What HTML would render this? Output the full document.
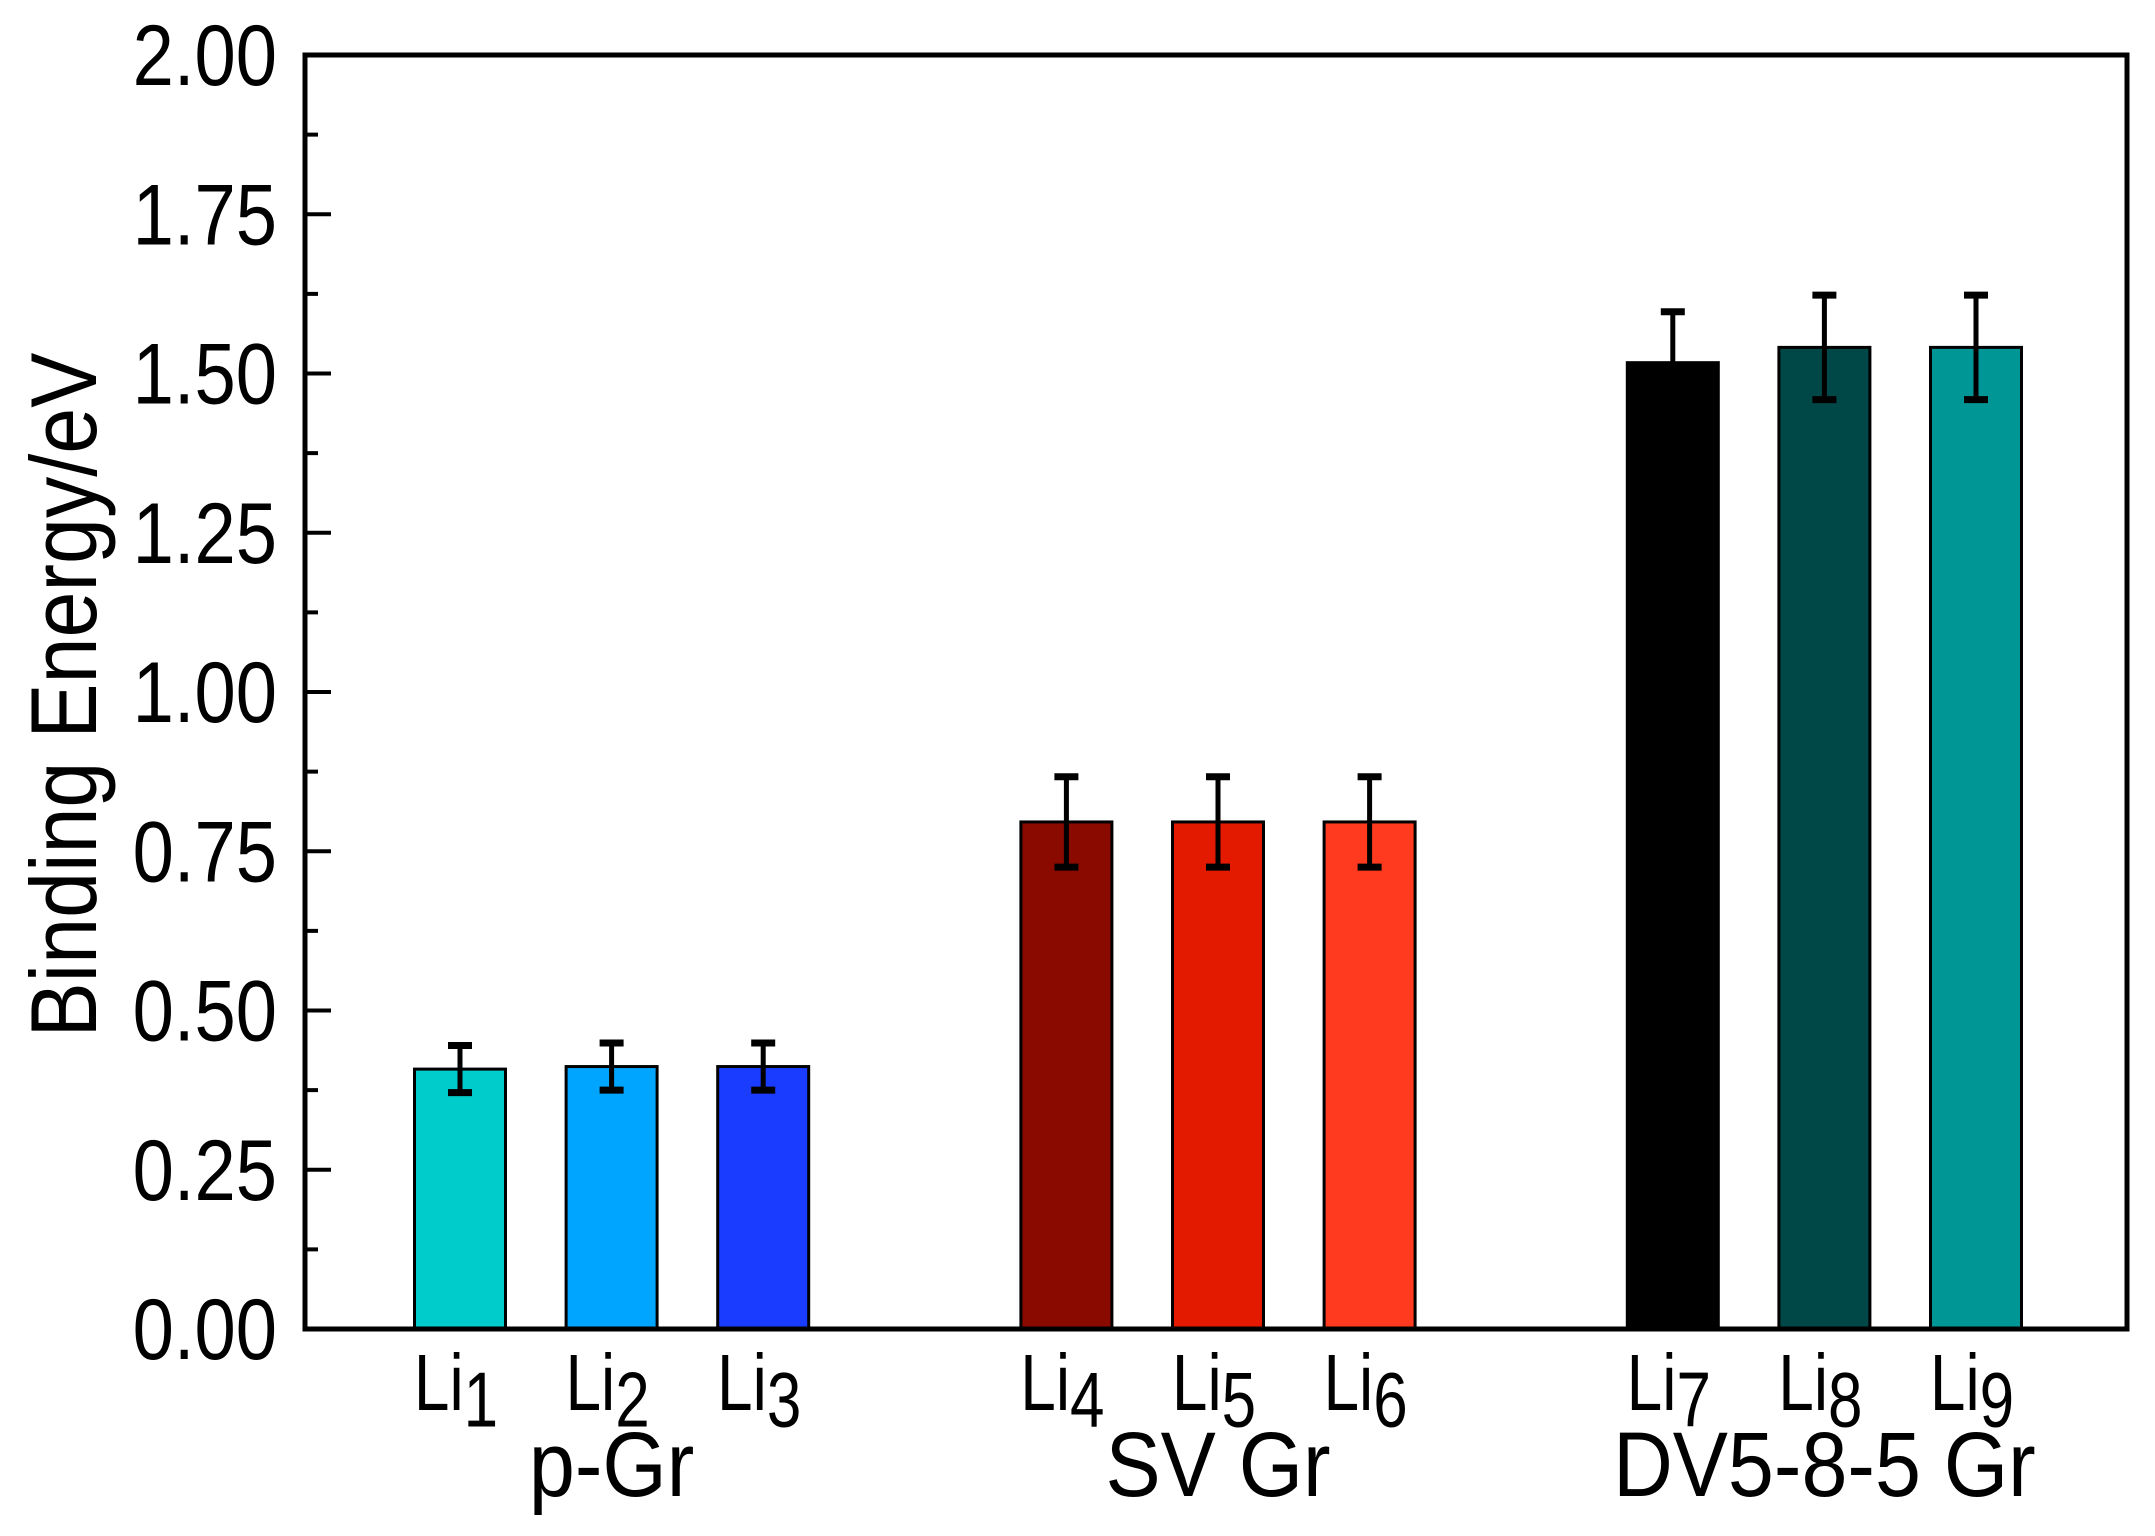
<!DOCTYPE html>
<html><head><meta charset="utf-8"><style>
html,body{margin:0;padding:0;background:#fff;}
svg{display:block;font-family:"Liberation Sans",Arial,sans-serif;}
</style></head><body>
<svg id="chart" width="2155" height="1536" viewBox="0 0 2155 1536" xmlns="http://www.w3.org/2000/svg"></svg>
<script>
const categories = ["Li1","Li2","Li3","Li4","Li5","Li6","Li7","Li8","Li9"];
const slots = [0,1,2,4,5,6,8,9,10];
const values = [0.408,0.412,0.412,0.796,0.796,0.796,1.517,1.541,1.541];
const errors = [0.037,0.037,0.037,0.071,0.071,0.071,0.080,0.082,0.082];
const colors = ["#00CCCC","#00A5FF","#1A3CFF","#8B0A00","#E31A00","#FF3A1E","#000000","#004848","#009696"];
const groups = ["p-Gr","SV Gr","DV5-8-5 Gr"];
const groupSlots = [1,5,9];
const yTicks = ["0.00","0.25","0.50","0.75","1.00","1.25","1.50","1.75","2.00"];

const NS="http://www.w3.org/2000/svg";
const svg=document.getElementById('chart');
const L=305,R=2127,T=55,B=1329;
const yMax=2.0;
const y=v=>B-(v/yMax)*(B-T);
const x=s=>460+151.6*s;
const bw=91;
function el(tag,attrs,parent){const e=document.createElementNS(NS,tag);for(const k in attrs)e.setAttribute(k,attrs[k]);(parent||svg).appendChild(e);return e;}

categories.forEach((c,i)=>{
  const cx=x(slots[i]);
  const r=el('rect',{x:cx-bw/2,y:y(values[i]),width:bw,height:B-y(values[i]),fill:colors[i],stroke:'#000','stroke-width':3});
  
  
  const g=el('g',{stroke:'#000','stroke-width':5});
  
  
  el('line',{x1:cx,x2:cx,y1:y(values[i]+errors[i]),y2:y(values[i]-errors[i])},g);
  el('line',{x1:cx-12,x2:cx+12,y1:y(values[i]+errors[i]),y2:y(values[i]+errors[i]),'stroke-width':7},g);
  el('line',{x1:cx-12,x2:cx+12,y1:y(values[i]-errors[i]),y2:y(values[i]-errors[i]),'stroke-width':7},g);
  const t=el('text',{x:0,y:0,'font-size':64,'text-anchor':'middle',fill:'#000',transform:'translate('+(cx-4)+',1410) scale(1,1.25)'});
  
  
  t.textContent=c.slice(0,2);
  const sub=el('tspan',{dy:13,'font-size':62},t);
  sub.textContent=c.slice(2);
});
const frame=el('rect',{x:L,y:T,width:R-L,height:B-T,fill:'none',stroke:'#000','stroke-width':5});


yTicks.forEach((lab,i)=>{
  const v=parseFloat(lab);
  const ln=el('line',{x1:L,x2:L+26,y1:y(v),y2:y(v),stroke:'#000','stroke-width':4});
  
  
  if(i<yTicks.length-1){
    const m=el('line',{x1:L,x2:L+13,y1:y(v+0.125),y2:y(v+0.125),stroke:'#000','stroke-width':4});
    
    
  }
  const t=el('text',{x:0,y:0,'font-size':72,'text-anchor':'end',fill:'#000',transform:'translate(277,'+(y(v)+30)+') scale(1.03,1.2)'});
  
  
  t.textContent=lab;
});
groups.forEach((g,i)=>{
  const t=el('text',{x:0,y:0,'font-size':78,'text-anchor':'middle',fill:'#000',transform:'translate('+x(groupSlots[i])+',1496) scale(1.06,1.18)'});
  
  
  t.textContent=g;
});
const yt=el('text',{x:0,y:0,'font-size':78,'text-anchor':'middle',fill:'#000',transform:'translate(96,695) rotate(-90) scale(1.06,1.2)'});


yt.textContent='Binding Energy/eV';
</script>
</body></html>
